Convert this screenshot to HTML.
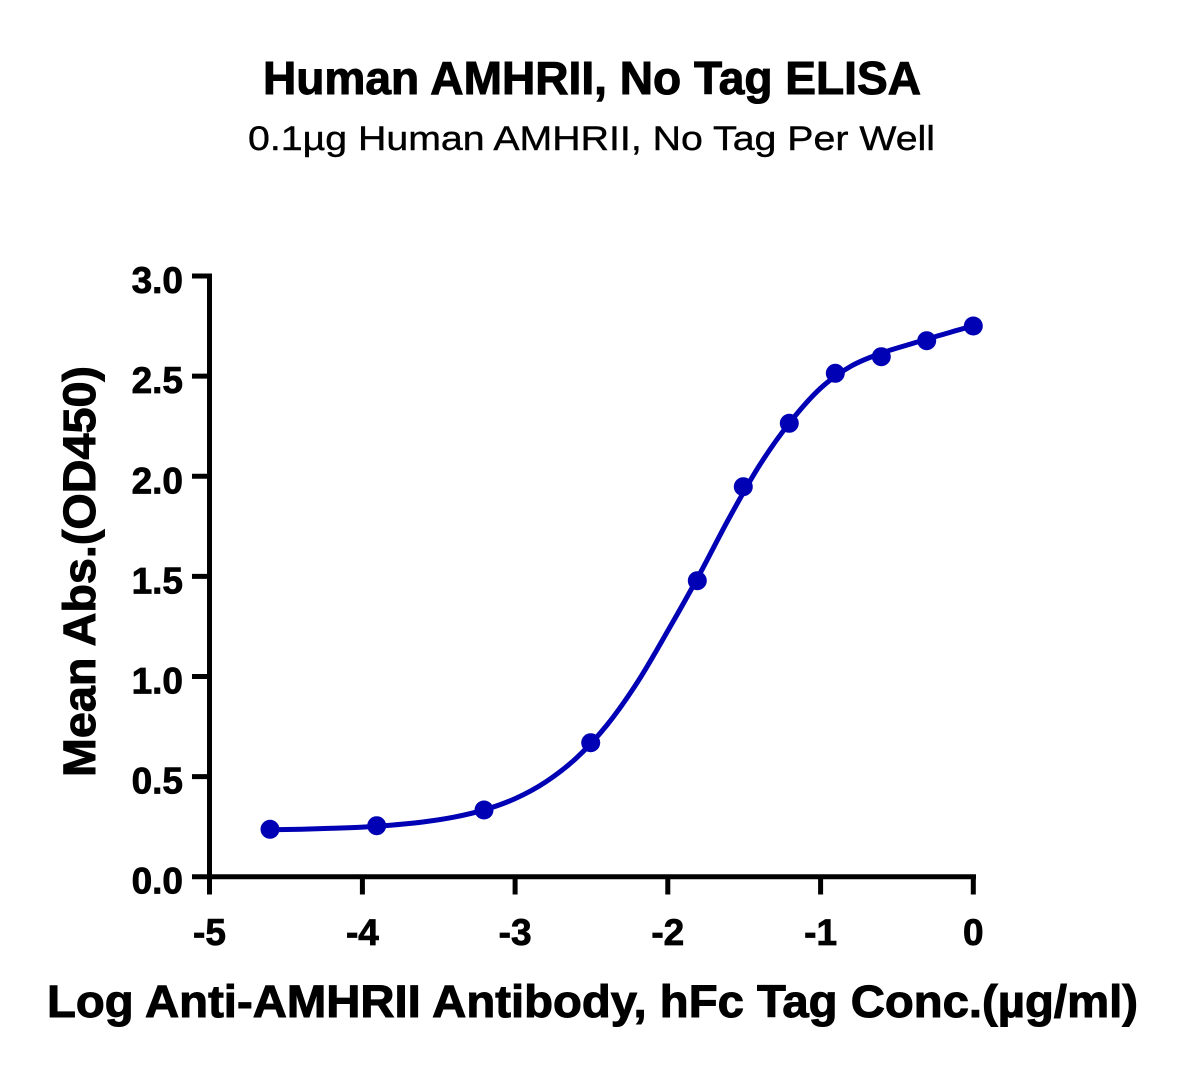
<!DOCTYPE html>
<html>
<head>
<meta charset="utf-8">
<style>
  html, body { margin:0; padding:0; background:#ffffff; }
  svg { display:block; }
</style>
</head>
<body>
<svg width="1184" height="1076" viewBox="0 0 1184 1076" xmlns="http://www.w3.org/2000/svg">
  <rect width="1184" height="1076" fill="#ffffff"/>

  <!-- Titles -->
  <text x="263" y="94" font-family="Liberation Sans, sans-serif" font-weight="bold" font-size="46" textLength="658" lengthAdjust="spacingAndGlyphs" fill="#000" stroke="#000" stroke-width="1">Human AMHRII, No Tag ELISA</text>
  <text x="248" y="150" font-family="Liberation Sans, sans-serif" font-size="34" textLength="687" lengthAdjust="spacingAndGlyphs" fill="#000" stroke="#000" stroke-width="0.4">0.1µg Human AMHRII, No Tag Per Well</text>

  <!-- Axes -->
  <g stroke="#000" stroke-width="5" fill="none">
    <line x1="209.5" y1="273.5" x2="209.5" y2="879.2"/>
    <line x1="207" y1="876.7" x2="976" y2="876.7"/>
    <!-- y ticks -->
    <line x1="192" y1="276" x2="210" y2="276"/>
    <line x1="192" y1="376.1" x2="210" y2="376.1"/>
    <line x1="192" y1="476.3" x2="210" y2="476.3"/>
    <line x1="192" y1="576.4" x2="210" y2="576.4"/>
    <line x1="192" y1="676.5" x2="210" y2="676.5"/>
    <line x1="192" y1="776.6" x2="210" y2="776.6"/>
    <line x1="192" y1="876.7" x2="210" y2="876.7"/>
    <!-- x ticks -->
    <line x1="209.5" y1="876" x2="209.5" y2="894.5"/>
    <line x1="362.4" y1="876" x2="362.4" y2="894.5"/>
    <line x1="515.1" y1="876" x2="515.1" y2="894.5"/>
    <line x1="667.8" y1="876" x2="667.8" y2="894.5"/>
    <line x1="820.6" y1="876" x2="820.6" y2="894.5"/>
    <line x1="973.3" y1="876" x2="973.3" y2="894.5"/>
  </g>

  <!-- Y tick labels -->
  <g font-family="Liberation Sans, sans-serif" font-weight="bold" font-size="37" fill="#000" stroke="#000" stroke-width="0.8" text-anchor="end">
    <text x="183" y="293">3.0</text>
    <text x="183" y="393.1">2.5</text>
    <text x="183" y="493.3">2.0</text>
    <text x="183" y="593.4">1.5</text>
    <text x="183" y="693.5">1.0</text>
    <text x="183" y="793.6">0.5</text>
    <text x="183" y="893.7">0.0</text>
  </g>

  <!-- X tick labels -->
  <g font-family="Liberation Sans, sans-serif" font-weight="bold" font-size="37" fill="#000" stroke="#000" stroke-width="0.8" text-anchor="middle">
    <text x="209.5" y="945">-5</text>
    <text x="362.4" y="945">-4</text>
    <text x="515.1" y="945">-3</text>
    <text x="667.8" y="945">-2</text>
    <text x="820.6" y="945">-1</text>
    <text x="973.3" y="945">0</text>
  </g>

  <!-- Axis titles -->
  <text x="47" y="1017" font-family="Liberation Sans, sans-serif" font-weight="bold" font-size="45" textLength="1091" lengthAdjust="spacingAndGlyphs" fill="#000" stroke="#000" stroke-width="1">Log Anti-AMHRII Antibody, hFc Tag Conc.(µg/ml)</text>
  <text transform="translate(95,777) rotate(-90)" x="0" y="0" font-family="Liberation Sans, sans-serif" font-weight="bold" font-size="45" textLength="411" lengthAdjust="spacingAndGlyphs" fill="#000" stroke="#000" stroke-width="1">Mean Abs.(OD450)</text>

  <!-- Fitted curve -->
  <path fill="none" stroke="#0000b4" stroke-width="5" stroke-linejoin="round" stroke-linecap="round"
    d="M271,829.7
       C281.2,829.62 291.4,829.43 301.6,829.2
       C311.8,828.97 322,828.65 332.2,828.3
       C342.4,827.95 352.5,827.65 362.7,827.1
       C372.9,826.55 383,825.87 393.2,825.0
       C403.4,824.13 413.6,823.22 423.8,821.9
       C434,820.58 444.1,819.13 454.3,817.1
       C464.5,815.07 474.7,812.8 484.9,809.7
       C495.1,806.6 505.2,803.15 515.4,798.5
       C525.6,793.85 535.7,788.57 545.9,781.8
       C556.1,775.03 566.3,767.37 576.5,757.9
       C586.7,748.43 596.8,737.63 607,725
       C617.2,712.37 627.3,697.88 637.5,682.1
       C647.7,666.32 657.9,647.98 668.1,630.3
       C678.3,612.62 688.4,594.72 698.6,576
       C708.8,557.28 719,536.5 729.2,518
       C739.4,499.5 749.5,481 759.7,465
       C769.9,449 780,434.83 790.2,422
       C800.4,409.17 810.6,397.33 820.8,388
       C831,378.67 841.1,371.83 851.3,366
       C861.5,360.17 871.6,356.75 881.8,353
       C892,349.25 902.2,346.58 912.4,343.5
       C922.6,340.42 932.7,337.33 942.9,334.5
       C953.1,331.67 963.3,327.83 973.5,326.5"/>

  <!-- Data points -->
  <g fill="#0000b4">
    <circle cx="270" cy="829.3" r="9.5"/>
    <circle cx="376.7" cy="825.7" r="9.5"/>
    <circle cx="484" cy="810" r="9.5"/>
    <circle cx="590.7" cy="742.7" r="9.5"/>
    <circle cx="697.3" cy="580.7" r="9.5"/>
    <circle cx="743.3" cy="486.7" r="9.5"/>
    <circle cx="789.3" cy="423.3" r="9.5"/>
    <circle cx="835.3" cy="373.3" r="9.5"/>
    <circle cx="881.3" cy="356.7" r="9.5"/>
    <circle cx="926.7" cy="340.7" r="9.5"/>
    <circle cx="973.3" cy="326" r="9.5"/>
  </g>
</svg>
</body>
</html>
